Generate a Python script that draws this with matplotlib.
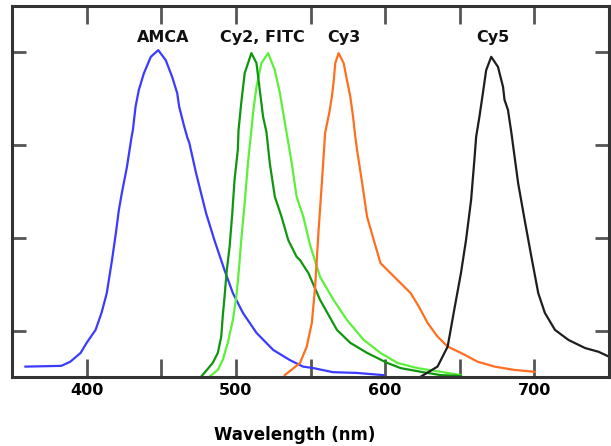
import matplotlib
matplotlib.use("Agg")
import matplotlib.pyplot as plt

# ---- data (wavelength nm, relative intensity as fraction of plot height) ----
amca_wl = [359, 383, 389, 396, 400, 406, 410, 413.5, 417, 419.6, 421.6, 423.6, 427, 430, 431,
           432.8, 435, 438.4, 443, 448, 453, 457.3, 460.7, 462, 465.4, 467.6, 468.8, 473.3, 480,
           485.6, 492.4, 498, 504.7, 513.8, 525, 536, 545, 552, 565, 581, 599]
amca_v = [0.028, 0.030, 0.041, 0.065, 0.092, 0.127, 0.173, 0.226, 0.315, 0.388, 0.450, 0.496,
          0.566, 0.644, 0.666, 0.729, 0.774, 0.819, 0.863, 0.881, 0.854, 0.809, 0.765, 0.729,
          0.675, 0.644, 0.631, 0.550, 0.442, 0.369, 0.288, 0.226, 0.173, 0.119, 0.073, 0.046,
          0.028, 0.024, 0.013, 0.011, 0.005]

cy2_wl = [476.7, 478.9, 484.5, 487.9, 490.2, 491.2, 492.4, 493.9, 495.8, 497.6, 499.1, 501.3,
          501.8, 503.6, 505.9, 510.4, 513.8, 516, 518.2, 520.5, 522.7, 526.1, 530.6, 535.1,
          540.7, 543, 548.6, 556.4, 567.7, 576.7, 587.9, 601.4, 610.4, 623.9, 637.4, 650.8]
cy2_v = [0.001, 0.011, 0.038, 0.065, 0.109, 0.163, 0.216, 0.288, 0.351, 0.442, 0.531, 0.612,
         0.666, 0.739, 0.819, 0.873, 0.846, 0.774, 0.702, 0.660, 0.577, 0.486, 0.432, 0.369,
         0.324, 0.315, 0.280, 0.208, 0.127, 0.092, 0.065, 0.038, 0.024, 0.014, 0.005, 0.003]

fitc_wl = [482.3, 487.9, 491.2, 494.6, 498, 500.3, 502, 503.6, 505.9, 508.1, 510.4, 511.5,
           513.8, 517.1, 521.6, 526.1, 529.5, 531.7, 534, 537.4, 540.7, 545.2, 549.7, 556.4,
           565.4, 574.4, 585.6, 596.9, 608.2, 621.6, 637.4, 650.8]
fitc_v = [0.001, 0.019, 0.046, 0.092, 0.154, 0.216, 0.288, 0.369, 0.469, 0.577, 0.666, 0.712,
          0.782, 0.846, 0.873, 0.827, 0.765, 0.712, 0.658, 0.577, 0.486, 0.432, 0.356, 0.270,
          0.208, 0.154, 0.100, 0.065, 0.038, 0.024, 0.014, 0.005]

cy3_wl = [532.8, 536.2, 543, 547.5, 549.5, 550.9, 553.1, 555.3, 557.6, 559.8, 562.7, 564.3,
          565.4, 566.6, 568.8, 572.2, 574.4, 576.7, 578.5, 580, 581.2, 584.6, 587.9, 592.4,
          596.9, 603.6, 610.4, 617.1, 622.7, 628.4, 635.1, 641.9, 650.8, 662.1, 673.3, 686.8,
          700.3]
cy3_v = [0.005, 0.016, 0.038, 0.082, 0.120, 0.146, 0.243, 0.388, 0.523, 0.658, 0.715, 0.755,
         0.792, 0.846, 0.873, 0.846, 0.801, 0.755, 0.702, 0.648, 0.612, 0.523, 0.432, 0.369,
         0.307, 0.280, 0.253, 0.226, 0.189, 0.146, 0.109, 0.082, 0.065, 0.041, 0.028, 0.019,
         0.014]

cy5_wl = [623.9, 635.1, 641.9, 646.3, 650.8, 654.2, 657.6, 659.8, 661, 662.1, 663.2, 665.5,
          667.7, 671.1, 675.6, 679, 680, 682.3, 684.6, 689.1, 693.5, 698, 702.6, 707, 713.8,
          722.8, 734, 743, 752]
cy5_v = [0.001, 0.028, 0.082, 0.181, 0.280, 0.369, 0.477, 0.585, 0.648, 0.675, 0.702, 0.765,
         0.827, 0.863, 0.836, 0.782, 0.747, 0.720, 0.658, 0.523, 0.423, 0.324, 0.226, 0.173,
         0.127, 0.100, 0.078, 0.068, 0.051]

labels = ["AMCA", "Cy2, FITC", "Cy3", "Cy5"]
label_wl = [451, 517.5, 572.5, 672.5]
label_v = [0.915, 0.915, 0.915, 0.915]

xticks = [400, 450, 500, 550, 600, 650, 700]
xticklabels = ["400", "", "500", "", "600", "", "700"]
yticks = [0.125, 0.375, 0.625, 0.875]

# ---- figure ----
fig = plt.figure(figsize=(6.11, 4.46), dpi=100)
ax = fig.add_axes([12 / 611, 69 / 446, 597 / 611, 371 / 446])

lw = 1.6
ax.plot(amca_wl, amca_v, color="#3b3bff", lw=lw)
ax.plot(fitc_wl, fitc_v, color="#5cf03a", lw=lw)
ax.plot(cy2_wl, cy2_v, color="#0f960f", lw=lw)
ax.plot(cy3_wl, cy3_v, color="#ff6f1f", lw=lw)
ax.plot(cy5_wl, cy5_v, color="#1e1e1e", lw=lw)

for t, x, y in zip(labels, label_wl, label_v):
    ax.text(x, y, t, ha="center", va="center", fontsize=11.5, fontweight="bold", color="#111111")

ax.set_xlim(350, 750)
ax.set_ylim(0, 1)
ax.set_xticks(xticks)
ax.set_xticklabels(xticklabels, fontsize=11.5, fontweight="bold")
ax.set_yticks(yticks)
ax.set_yticklabels([])
ax.tick_params(axis="x", direction="in", length=13, width=2, color="#555555",
               top=True, bottom=True, pad=4)
ax.tick_params(axis="y", direction="in", length=10, width=2, color="#555555",
               left=True, right=True)

for s in ax.spines.values():
    s.set_linewidth(2.2)
    s.set_color("#333333")

ax.set_xlabel("Wavelength (nm)", fontsize=12, fontweight="bold")
ax.xaxis.label.set_va("center")
ax.xaxis.set_label_coords(0.474, -0.155)

fig.savefig("out.png", dpi=100)
